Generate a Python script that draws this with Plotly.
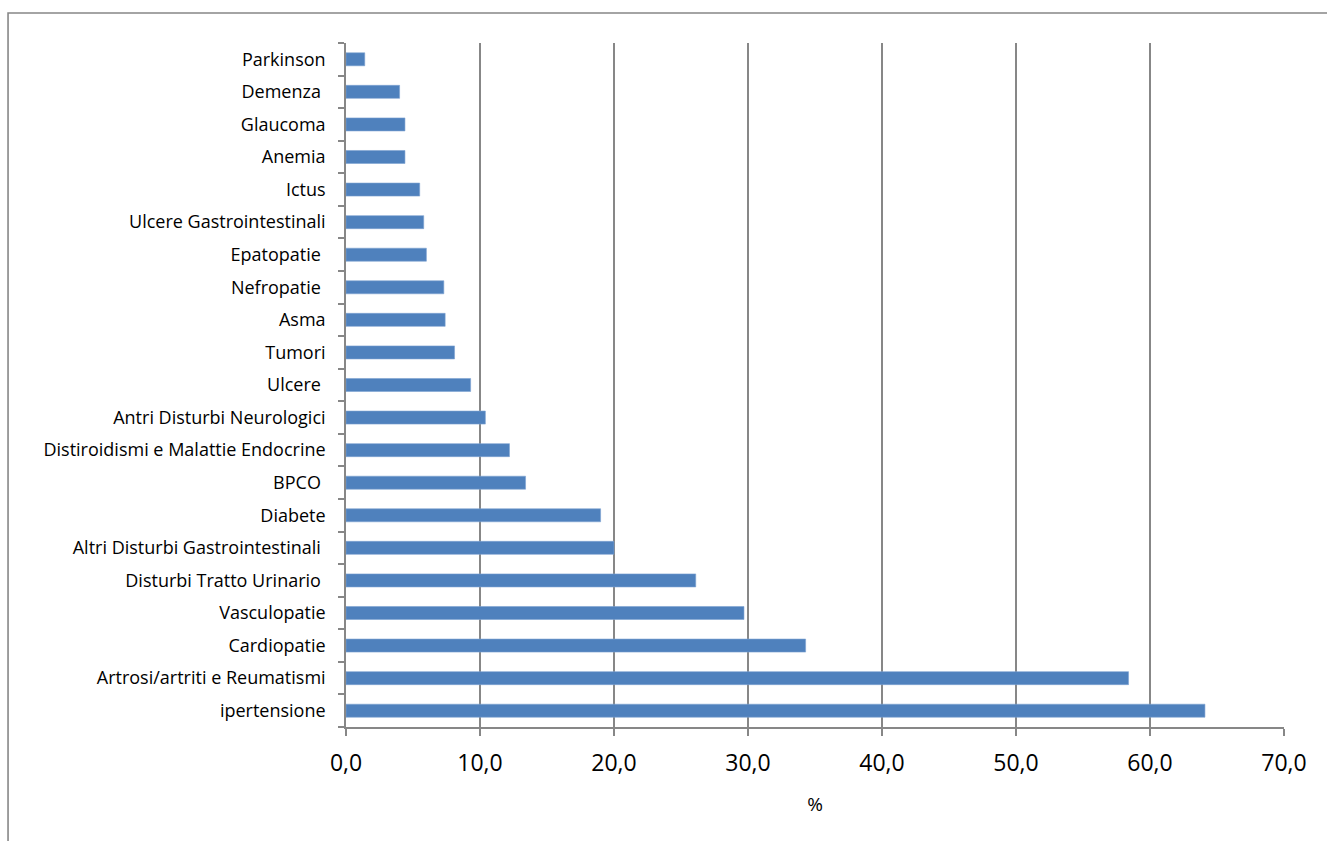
import plotly.graph_objects as go

# Conditions, listed bottom-to-top as they appear on the axis
conditions = [
    "ipertensione",
    "Artrosi/artriti e Reumatismi",
    "Cardiopatie",
    "Vasculopatie",
    "Disturbi Tratto Urinario ",
    "Altri Disturbi Gastrointestinali ",
    "Diabete",
    "BPCO ",
    "Distiroidismi e Malattie Endocrine",
    "Antri Disturbi Neurologici",
    "Ulcere ",
    "Tumori",
    "Asma",
    "Nefropatie ",
    "Epatopatie ",
    "Ulcere Gastrointestinali",
    "Ictus",
    "Anemia",
    "Glaucoma",
    "Demenza ",
    "Parkinson",
]
percent = [
    64.1, 58.4, 34.3, 29.7, 26.1, 20.0, 19.0, 13.4, 12.2, 10.4,
    9.3, 8.1, 7.4, 7.3, 6.0, 5.8, 5.5, 4.4, 4.4, 4.0, 1.4,
]
x_ticks = [0, 10, 20, 30, 40, 50, 60, 70]

axis_grey = "#878787"

fig = go.Figure(
    go.Bar(
        x=percent,
        y=conditions,
        orientation="h",
        width=0.4,
        marker=dict(color="#4f81bd", line=dict(color="#7ea3d2", width=0.6)),
        hoverinfo="x+y",
    )
)

fig.update_layout(
    width=1327,
    height=841,
    margin=dict(l=346, r=43, t=43, b=114),
    paper_bgcolor="white",
    plot_bgcolor="white",
    separators=",.",
    showlegend=False,
    font=dict(family="Open Sans, sans-serif", color="black"),
    shapes=[
        # outer chart-area frame
        dict(
            type="rect",
            xref="paper", yref="paper",
            x0=-0.3603, x1=1.2, y0=-0.3, y1=1.0439,
            line=dict(color=axis_grey, width=1.6),
            fillcolor="rgba(0,0,0,0)",
            layer="below",
        )
    ],
)

fig.update_xaxes(
    range=[0, 70],
    tickvals=x_ticks,
    tickformat=".1f",
    showgrid=True,
    gridcolor=axis_grey,
    gridwidth=1.6,
    showline=True,
    linecolor=axis_grey,
    linewidth=1.6,
    ticks="outside",
    ticklen=7,
    tickwidth=1.6,
    tickcolor=axis_grey,
    tickfont=dict(size=23, color="black"),
    ticklabelstandoff=8,
    zeroline=False,
    title=dict(text="%", font=dict(size=19, color="black"), standoff=20),
)

fig.update_yaxes(
    type="category",
    categoryorder="array",
    categoryarray=conditions,
    showgrid=False,
    showline=True,
    linecolor=axis_grey,
    linewidth=1.6,
    ticks="outside",
    tickson="boundaries",
    ticklen=6,
    tickwidth=1.6,
    tickcolor=axis_grey,
    tickfont=dict(size=18, color="black"),
    ticklabelstandoff=15,
    zeroline=False,
)

fig.write_html("out.html")
